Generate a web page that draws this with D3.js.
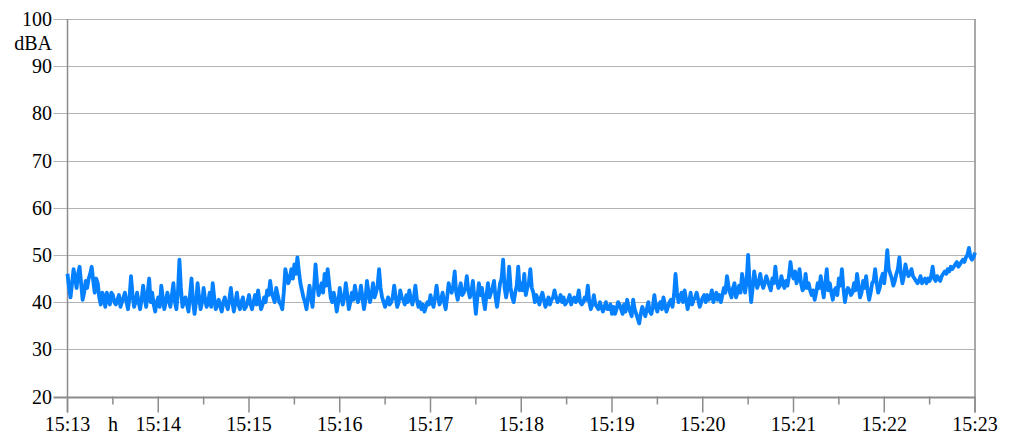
<!DOCTYPE html>
<html>
<head>
<meta charset="utf-8">
<script src="https://cdn.jsdelivr.net/npm/d3@7"></script>
<style>
  html, body { margin: 0; padding: 0; background: #fff; }
  svg { display: block; }
</style>
</head>
<body>
<svg id="chart" width="1015" height="435"></svg>
<script>
// ---- data (one reading per second from 15:13:00) ----
const startTime = "15:13:00";
const stepSeconds = 1;
const levels = [
  46, 43, 41, 44, 47, 45, 43, 46, 47.5, 44, 40.5, 42, 44.5, 43, 45, 46, 47.5, 44.5, 42, 45,
  44, 41, 39.5, 42, 41, 39, 42, 40.5, 39.5, 42, 41.5, 40, 39.5, 40.5, 41.5, 39, 40, 41, 42, 40,
  38.5, 41, 45.5, 41.5, 39, 40, 42, 40, 38.5, 40.5, 43.5, 41, 39, 42, 45, 40, 42, 39.5, 38, 40,
  41, 39, 43.5, 41, 38.5, 40, 42, 40.5, 39, 41.5, 44, 40, 38.5, 42, 49, 43, 39, 40, 41, 39.5,
  38, 41.5, 45, 40, 37.5, 40, 44, 41, 38.5, 40, 43, 40.5, 39, 40, 42, 39, 44, 41, 38.5, 39.5,
  40.5, 39, 38, 40, 41, 39.5, 38.5, 40.5, 43, 40, 38, 40, 42, 39.5, 38.5, 40, 41, 38.5, 39, 40,
  41.5,
  39.5, 38.5, 40, 41.5, 39.5, 42.5, 40, 38.5, 39.5, 41, 40, 42.5, 41.5, 44.5, 42, 41, 40, 43, 41.5, 40,
  39.5, 38.5, 42, 47, 45.5, 44, 45, 47, 45, 48, 46, 49.5, 46.5, 44, 42.5, 41, 40, 38.5, 41, 43.5,
  41, 39, 43, 48, 44, 41.5, 42.5, 44, 42, 46, 43.5, 47, 44, 41, 40, 42, 40.5, 38, 40, 43,
  41, 39.5, 41, 44, 41.5, 38.5, 40, 42, 40.5, 43.5, 41.5, 40, 41, 43.5, 41, 38.5, 40.5, 44.5, 42, 40,
  41.5, 44, 41, 42, 43.5, 47, 43, 41, 40, 39, 40, 41, 39.5, 40, 41, 43.5, 41, 39, 40, 42.5,
  41, 40.5, 39.5, 41.5, 40, 42.5, 40.5, 39.5, 41, 43.5, 40.5, 39, 40, 38.5, 39.5, 38, 39, 40, 39.5, 41.5,
  40, 39, 41, 43.5, 41, 39.5, 40.5, 42, 40, 38.5, 41, 44, 42.5, 42, 43.5, 46.5, 42, 40.5, 42.5, 44,
  41.5, 42, 43, 45.5, 42.5, 41, 42, 44.5, 41, 37.5, 41, 44, 41.5, 43, 40.5, 38.5, 41.5, 44, 41, 42,
  43, 44.5, 41, 39, 41.5, 44, 45, 49, 43, 41, 43, 47.5, 43, 41, 40, 42, 43.5, 47.5, 42.5, 44,
  42.5, 46, 41.5, 43, 44, 47, 43, 42, 40, 41.5, 40.5, 39.5, 41, 42, 40.5, 39, 40, 41, 39.5, 40.5,
  41, 42.5, 41, 40, 40.5, 41.5, 40, 41, 39.5, 40, 40.5, 41.5, 39.5, 40.5, 41, 40, 40.5, 42.5, 40, 39.5,
  40, 41, 40.5, 43.5, 40, 38.5, 39.5, 41.5, 39.5, 39, 38.5, 40, 39, 38, 39, 40, 38.5, 38.5, 39.5, 37.5,
  39, 37.5, 38.5, 40, 39.5, 38.5, 37.5, 39.5, 38, 40.5, 39, 38, 37, 40.5, 38.5, 37.5, 36.5, 35.5, 37.5, 39,
  38, 37, 38.5, 40, 38, 37.5, 39, 41.5, 39, 38, 39.5, 40, 38.5, 41, 39.5, 38, 39, 40, 40.5, 39,
  41.5, 46, 42, 40, 41, 42, 40, 42.5, 40.5, 38.5, 40, 42, 39.5, 40.5, 41, 42, 40.5, 39, 40, 41,
  41.5, 40, 41.5, 40.5, 41, 42.5, 40, 41, 42, 40.5, 41.5, 40, 41.5, 43, 42, 45.5, 43.5, 42, 41, 43,
  44, 41, 42, 43.5, 42, 46, 44, 42, 44.5, 50, 44, 40, 43, 46.5, 44.5, 43, 44, 46, 44, 43,
  44, 45.5, 44.5, 43.5, 42.5, 45, 44, 47.5, 44.5, 43, 43.5, 45.5, 44, 43, 44.5, 43.5, 45.5, 48.5, 46, 45,
  46.5, 44, 45, 47, 44, 42.5, 43, 46, 43, 44, 42.5, 41.5, 42.5, 40.5, 42, 44, 43, 45.5, 43, 41,
  44, 47, 42.5, 44, 42, 40.5, 42.5, 43, 41.5, 45, 43.5, 47, 43, 40, 42, 43, 42.5, 41.5, 42, 44,
  42.5, 46, 43.5, 41, 42, 44.5, 43, 45.5, 42.5, 40.5, 42, 44, 44.5, 47, 44, 42, 43, 45, 46, 44,
  47, 51, 47, 46, 45, 43.5, 44.5, 46, 47, 49.5, 46, 44, 45.5, 48, 46.5, 45.5, 46, 47, 45.5, 45,
  44.5, 44, 44.5, 45.5, 44, 44.5, 45, 44, 45, 44.5, 45.5, 47.5, 45, 44.5, 45.5, 45, 44.5, 45.5, 46, 46.5,
  46, 47, 46.5, 47.5, 47, 47.5, 48, 48.5, 47.5, 48, 48.5, 49, 48.5, 49.5, 50, 51.5, 49.5, 49, 49.5, 50.5
];
const yTicks = [20, 30, 40, 50, 60, 70, 80, 90, 100];
const xTickLabels = ["15:13", "15:14", "15:15", "15:16", "15:17", "15:18", "15:19", "15:20", "15:21", "15:22", "15:23"];
const yUnit = "dBA";
const xUnit = "h";

(function () {
  const svg = d3.select("#chart")
    .attr("font-family", "'Liberation Serif', 'DejaVu Serif', serif")
    .attr("font-size", 20);
  const mLeft = 67.5, mRight = 975, mTop = 19, mBottom = 396.5;

  const parse = d3.timeParse("%H:%M:%S");
  const t0 = parse(startTime);
  const tEnd = d3.timeMinute.offset(t0, xTickLabels.length - 1);
  const data = levels.map((v, i) => ({ t: d3.timeSecond.offset(t0, i * stepSeconds), v }));

  const x = d3.scaleTime().domain([t0, tEnd]).range([mLeft, mRight]);
  const y = d3.scaleLinear().domain([20, 100]).range([mBottom, mTop]);

  const gridColor = "#b3b3b3";
  const axisColor = "#8c8c8c";

  // horizontal gridlines with left ticks
  svg.append("g").selectAll("line").data(yTicks).join("line")
    .attr("x1", mLeft - 14).attr("x2", mRight)
    .attr("y1", d => Math.round(y(d)) + 0.5).attr("y2", d => Math.round(y(d)) + 0.5)
    .attr("stroke", d => d === 20 ? axisColor : gridColor).attr("stroke-width", d => d === 20 ? 2 : 1.2);

  // y labels
  svg.append("g").selectAll("text").data(yTicks).join("text")
    .attr("x", 52).attr("y", d => y(d) + 7)
    .attr("text-anchor", "end").text(d => d);
  svg.append("text").attr("x", 52).attr("y", 50).attr("text-anchor", "end").text(yUnit);

  // left and right frame lines
  svg.append("line").attr("x1", mLeft).attr("x2", mLeft).attr("y1", mTop).attr("y2", mBottom + 16)
    .attr("stroke", axisColor).attr("stroke-width", 1.5);
  svg.append("line").attr("x1", mRight).attr("x2", mRight).attr("y1", mTop).attr("y2", mBottom + 16)
    .attr("stroke", axisColor).attr("stroke-width", 1.5);

  // x ticks: minute (major) and half-minute (minor)
  const majors = d3.timeMinute.range(t0, d3.timeSecond.offset(tEnd, 1));
  const halves = d3.timeSecond.every(30).range(t0, tEnd).filter(d => d.getSeconds() === 30);
  svg.append("g").selectAll("line").data(majors).join("line")
    .attr("x1", d => x(d)).attr("x2", d => x(d))
    .attr("y1", mBottom).attr("y2", mBottom + 16)
    .attr("stroke", axisColor).attr("stroke-width", 1.5);
  svg.append("g").selectAll("line").data(halves).join("line")
    .attr("x1", d => x(d)).attr("x2", d => x(d))
    .attr("y1", mBottom).attr("y2", mBottom + 8)
    .attr("stroke", axisColor).attr("stroke-width", 1.5);

  // x labels
  svg.append("g").selectAll("text").data(majors).join("text")
    .attr("x", d => x(d)).attr("y", 431)
    .attr("text-anchor", "middle").text((d, i) => xTickLabels[i]);
  svg.append("text").attr("x", x(halves[0])).attr("y", 431).attr("text-anchor", "middle").text(xUnit);

  // series line
  const line = d3.line().x(d => x(d.t)).y(d => y(d.v));
  svg.append("path").datum(data)
    .attr("d", line)
    .attr("fill", "none")
    .attr("stroke", "#0580ff")
    .attr("stroke-width", 3.8)
    .attr("stroke-linejoin", "round");
})();
</script>
</body>
</html>
